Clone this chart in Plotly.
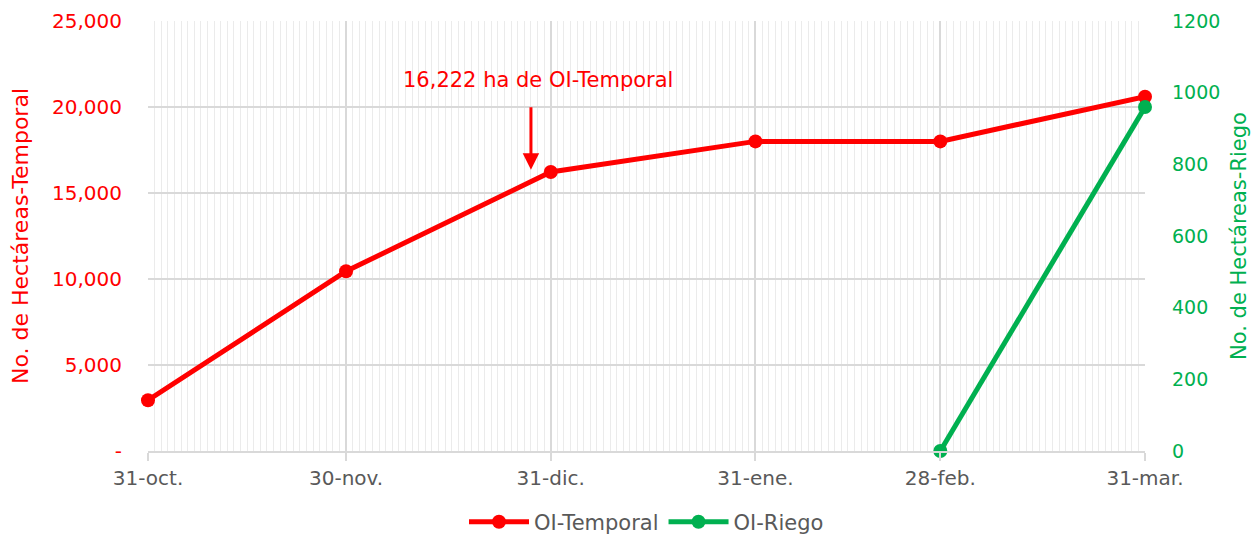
import plotly.graph_objects as go

temporal_dates = ["2020-10-31", "2020-11-30", "2020-12-31", "2021-01-31", "2021-02-28", "2021-03-31"]
temporal_values = [2950, 10450, 16222, 18000, 18000, 20600]
riego_dates = ["2021-02-28", "2021-03-31"]
riego_values = [0, 960]
tick_dates = ["2020-10-31", "2020-11-30", "2020-12-31", "2021-01-31", "2021-02-28", "2021-03-31"]
tick_labels = ["31-oct.", "30-nov.", "31-dic.", "31-ene.", "28-feb.", "31-mar."]
left_vals = [0, 5000, 10000, 15000, 20000, 25000]
left_text = ["-", "5,000", "10,000", "15,000", "20,000", "25,000"]
right_vals = [0, 200, 400, 600, 800, 1000, 1200]

RED = "#FF0000"
GREEN = "#00B050"
GRAY = "#595959"
FONT = "DejaVu Sans"

fig = go.Figure()
fig.add_trace(go.Scatter(x=temporal_dates, y=temporal_values, name="OI-Temporal",
                         mode="lines+markers", line=dict(color=RED, width=5),
                         marker=dict(color=RED, size=14), cliponaxis=False))
fig.add_trace(go.Scatter(x=riego_dates, y=riego_values, name="OI-Riego", yaxis="y2",
                         mode="lines+markers", line=dict(color=GREEN, width=5),
                         marker=dict(color=GREEN, size=14), cliponaxis=False))

fig.add_annotation(x="2020-12-28", y=16350, ax=0, ay=-64, text="", showarrow=True,
                   arrowhead=2, arrowsize=1.1, arrowwidth=3, arrowcolor=RED)
fig.add_annotation(x="2020-12-29", y=21570, text="16,222 ha de OI-Temporal", showarrow=False,
                   font=dict(color=RED, size=21, family=FONT))

fig.update_layout(
    width=1251, height=530,
    margin=dict(l=140, r=114, t=13, b=87),
    paper_bgcolor="white", plot_bgcolor="white",
    font=dict(family=FONT, size=20, color=GRAY),
    showlegend=True,
    legend=dict(orientation="h", x=0.5, xanchor="center", xref="paper",
                yref="container", y=0.03, yanchor="middle",
                font=dict(size=21, color=GRAY), itemwidth=60),
    xaxis=dict(
        type="date", range=["2020-10-31", "2021-03-31"], automargin=False,
        tickmode="array", tickvals=tick_dates, ticktext=tick_labels,
        showgrid=True, gridcolor="#D9D9D9", gridwidth=1.5,
        showline=True, linecolor="#D9D9D9", linewidth=2,
        ticks="outside", ticklen=8, tickcolor="#D9D9D9", tickwidth=2,
        tickfont=dict(size=20, color=GRAY),
        minor=dict(tickmode="linear", tick0="2020-10-31", dtick=86400000,
                   showgrid=True, gridcolor="#EBEBEB", gridwidth=1, ticks=""),
        zeroline=False,
    ),
    yaxis=dict(
        range=[0, 25000], tickmode="array", tickvals=left_vals, ticktext=left_text,
        automargin=False,
        showgrid=True, gridcolor="#D9D9D9", gridwidth=1.5, zeroline=False,
        tickfont=dict(size=20, color=RED), ticks="", ticklabelstandoff=25,
        title=dict(text="No. de Hectáreas-Temporal", font=dict(size=22, color=RED), standoff=18),
    ),
    yaxis2=dict(
        range=[0, 1200], tickmode="array", tickvals=right_vals, overlaying="y", side="right",
        automargin=False,
        showgrid=False, zeroline=False, tickfont=dict(size=19, color=GREEN),
        ticklabelstandoff=26,
        title=dict(text="No. de Hectáreas-Riego", font=dict(size=21, color=GREEN), standoff=11),
    ),
)

fig.write_html("out.html")
